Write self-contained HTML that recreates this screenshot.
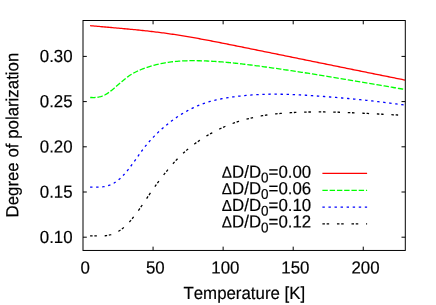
<!DOCTYPE html><html><head><meta charset="utf-8"><style>html,body{margin:0;padding:0;background:#fff}svg{display:block}text{font-family:"Liberation Sans",sans-serif;fill:#000;stroke:#000;stroke-width:0.18px;font-kerning:none;font-variant-ligatures:none}</style></head><body>
<svg width="436" height="305" viewBox="0 0 436 305">
<rect width="436" height="305" fill="#fff"/>
<g fill="none" stroke-width="1.30">
<path d="M90.10 25.64 L91.60 25.78 L93.10 25.92 L94.60 26.05 L96.10 26.19 L97.60 26.33 L99.10 26.46 L100.60 26.59 L102.10 26.73 L103.60 26.86 L105.10 26.99 L106.60 27.12 L108.10 27.26 L109.60 27.39 L111.10 27.52 L112.60 27.65 L114.10 27.78 L115.60 27.92 L117.10 28.05 L118.60 28.18 L120.10 28.32 L121.60 28.45 L123.10 28.59 L124.60 28.73 L126.10 28.87 L127.60 29.01 L129.10 29.15 L130.60 29.29 L132.10 29.43 L133.60 29.58 L135.10 29.72 L136.60 29.87 L138.10 30.02 L139.60 30.18 L141.10 30.33 L142.60 30.49 L144.10 30.65 L145.60 30.81 L147.10 30.97 L148.60 31.14 L150.10 31.31 L151.60 31.48 L153.10 31.66 L154.60 31.83 L156.10 32.02 L157.60 32.20 L159.10 32.39 L160.60 32.58 L162.10 32.78 L163.60 32.98 L165.10 33.18 L166.60 33.38 L168.10 33.59 L169.60 33.81 L171.10 34.03 L172.60 34.25 L174.10 34.47 L175.60 34.70 L177.10 34.93 L178.60 35.17 L180.10 35.40 L181.60 35.65 L183.10 35.89 L184.60 36.14 L186.10 36.39 L187.60 36.64 L189.10 36.89 L190.60 37.15 L192.10 37.41 L193.60 37.68 L195.10 37.94 L196.60 38.21 L198.10 38.48 L199.60 38.75 L201.10 39.03 L202.60 39.30 L204.10 39.58 L205.60 39.86 L207.10 40.14 L208.60 40.43 L210.10 40.71 L211.60 41.00 L213.10 41.29 L214.60 41.58 L216.10 41.87 L217.60 42.16 L219.10 42.46 L220.60 42.75 L222.10 43.05 L223.60 43.35 L225.10 43.64 L226.60 43.94 L228.10 44.24 L229.60 44.54 L231.10 44.84 L232.60 45.15 L234.10 45.45 L235.60 45.75 L237.10 46.05 L238.60 46.36 L240.10 46.66 L241.60 46.96 L243.10 47.26 L244.60 47.57 L246.10 47.87 L247.60 48.17 L249.10 48.48 L250.60 48.78 L252.10 49.09 L253.60 49.39 L255.10 49.69 L256.60 50.00 L258.10 50.30 L259.60 50.60 L261.10 50.91 L262.60 51.21 L264.10 51.52 L265.60 51.82 L267.10 52.13 L268.60 52.43 L270.10 52.73 L271.60 53.04 L273.10 53.34 L274.60 53.65 L276.10 53.95 L277.60 54.26 L279.10 54.56 L280.60 54.87 L282.10 55.17 L283.60 55.48 L285.10 55.78 L286.60 56.08 L288.10 56.39 L289.60 56.69 L291.10 57.00 L292.60 57.30 L294.10 57.61 L295.60 57.91 L297.10 58.22 L298.60 58.52 L300.10 58.83 L301.60 59.13 L303.10 59.44 L304.60 59.74 L306.10 60.05 L307.60 60.35 L309.10 60.66 L310.60 60.96 L312.10 61.27 L313.60 61.57 L315.10 61.88 L316.60 62.18 L318.10 62.49 L319.60 62.79 L321.10 63.10 L322.60 63.40 L324.10 63.71 L325.60 64.01 L327.10 64.32 L328.60 64.62 L330.10 64.92 L331.60 65.23 L333.10 65.53 L334.60 65.84 L336.10 66.14 L337.60 66.45 L339.10 66.75 L340.60 67.06 L342.10 67.36 L343.60 67.66 L345.10 67.97 L346.60 68.27 L348.10 68.58 L349.60 68.88 L351.10 69.19 L352.60 69.49 L354.10 69.79 L355.60 70.10 L357.10 70.40 L358.60 70.71 L360.10 71.01 L361.60 71.31 L363.10 71.62 L364.60 71.92 L366.10 72.22 L367.60 72.53 L369.10 72.83 L370.60 73.13 L372.10 73.44 L373.60 73.74 L375.10 74.04 L376.60 74.34 L378.10 74.65 L379.60 74.95 L381.10 75.25 L382.60 75.55 L384.10 75.86 L385.60 76.16 L387.10 76.46 L388.60 76.76 L390.10 77.06 L391.60 77.37 L393.10 77.67 L394.60 77.97 L396.10 78.27 L397.60 78.57 L399.10 78.87 L400.60 79.17 L402.10 79.48 L403.60 79.78 L405.00 80.06" stroke="#ff0000"/>
<path d="M90.20 97.48 L91.70 97.51 L93.20 97.53 L94.70 97.50 L96.20 97.42 L97.70 97.25 L99.20 96.97 L100.70 96.59 L102.20 96.09 L103.70 95.47 L105.20 94.73 L106.70 93.86 L108.20 92.88 L109.70 91.79 L111.20 90.64 L112.70 89.43 L114.20 88.17 L115.70 86.89 L117.20 85.58 L118.70 84.27 L120.20 82.96 L121.70 81.66 L123.20 80.39 L124.70 79.16 L126.20 77.98 L127.70 76.85 L129.20 75.80 L130.70 74.82 L132.20 73.90 L133.70 73.04 L135.20 72.24 L136.70 71.48 L138.20 70.78 L139.70 70.11 L141.20 69.48 L142.70 68.89 L144.20 68.33 L145.70 67.79 L147.20 67.27 L148.70 66.78 L150.20 66.31 L151.70 65.87 L153.20 65.44 L154.70 65.04 L156.20 64.66 L157.70 64.30 L159.20 63.96 L160.70 63.64 L162.20 63.34 L163.70 63.06 L165.20 62.80 L166.70 62.56 L168.20 62.33 L169.70 62.12 L171.20 61.93 L172.70 61.75 L174.20 61.59 L175.70 61.44 L177.20 61.31 L178.70 61.19 L180.20 61.09 L181.70 60.99 L183.20 60.92 L184.70 60.85 L186.20 60.80 L187.70 60.75 L189.20 60.72 L190.70 60.70 L192.20 60.69 L193.70 60.68 L195.20 60.69 L196.70 60.70 L198.20 60.73 L199.70 60.76 L201.20 60.79 L202.70 60.84 L204.20 60.89 L205.70 60.94 L207.20 61.01 L208.70 61.08 L210.20 61.15 L211.70 61.23 L213.20 61.32 L214.70 61.41 L216.20 61.51 L217.70 61.62 L219.20 61.73 L220.70 61.84 L222.20 61.96 L223.70 62.08 L225.20 62.21 L226.70 62.35 L228.20 62.48 L229.70 62.63 L231.20 62.77 L232.70 62.92 L234.20 63.08 L235.70 63.24 L237.20 63.40 L238.70 63.56 L240.20 63.73 L241.70 63.90 L243.20 64.08 L244.70 64.26 L246.20 64.44 L247.70 64.62 L249.20 64.81 L250.70 65.00 L252.20 65.19 L253.70 65.38 L255.20 65.58 L256.70 65.77 L258.20 65.97 L259.70 66.17 L261.20 66.37 L262.70 66.58 L264.20 66.78 L265.70 66.99 L267.20 67.19 L268.70 67.40 L270.20 67.61 L271.70 67.82 L273.20 68.04 L274.70 68.25 L276.20 68.46 L277.70 68.68 L279.20 68.90 L280.70 69.12 L282.20 69.34 L283.70 69.56 L285.20 69.78 L286.70 70.00 L288.20 70.22 L289.70 70.45 L291.20 70.68 L292.70 70.90 L294.20 71.13 L295.70 71.36 L297.20 71.59 L298.70 71.82 L300.20 72.05 L301.70 72.29 L303.20 72.52 L304.70 72.75 L306.20 72.99 L307.70 73.23 L309.20 73.46 L310.70 73.70 L312.20 73.94 L313.70 74.18 L315.20 74.42 L316.70 74.66 L318.20 74.90 L319.70 75.14 L321.20 75.39 L322.70 75.63 L324.20 75.88 L325.70 76.12 L327.20 76.37 L328.70 76.61 L330.20 76.86 L331.70 77.11 L333.20 77.35 L334.70 77.60 L336.20 77.85 L337.70 78.10 L339.20 78.35 L340.70 78.60 L342.20 78.85 L343.70 79.10 L345.20 79.35 L346.70 79.60 L348.20 79.86 L349.70 80.11 L351.20 80.36 L352.70 80.61 L354.20 80.87 L355.70 81.12 L357.20 81.37 L358.70 81.63 L360.20 81.88 L361.70 82.14 L363.20 82.39 L364.70 82.65 L366.20 82.90 L367.70 83.16 L369.20 83.41 L370.70 83.67 L372.20 83.92 L373.70 84.18 L375.20 84.43 L376.70 84.69 L378.20 84.94 L379.70 85.20 L381.20 85.45 L382.70 85.71 L384.20 85.96 L385.70 86.22 L387.20 86.47 L388.70 86.73 L390.20 86.98 L391.70 87.23 L393.20 87.49 L394.70 87.74 L396.20 88.00 L397.70 88.25 L399.20 88.50 L400.70 88.75 L402.20 89.01 L403.70 89.26 L404.00 89.31" stroke="#00ff00" stroke-dasharray="5.4 1.86"/>
<path d="M90.10 187.10 L91.60 187.08 L93.10 187.08 L94.60 187.10 L96.10 187.11 L97.60 187.11 L99.10 187.09 L100.60 187.02 L102.10 186.90 L103.60 186.72 L105.10 186.47 L106.60 186.13 L108.10 185.70 L109.60 185.18 L111.10 184.56 L112.60 183.83 L114.10 182.99 L115.60 182.03 L117.10 180.95 L118.60 179.75 L120.10 178.44 L121.60 177.02 L123.10 175.49 L124.60 173.85 L126.10 172.12 L127.60 170.31 L129.10 168.42 L130.60 166.46 L132.10 164.44 L133.60 162.38 L135.10 160.29 L136.60 158.18 L138.10 156.06 L139.60 153.95 L141.10 151.87 L142.60 149.82 L144.10 147.83 L145.60 145.91 L147.10 144.06 L148.60 142.30 L150.10 140.60 L151.60 138.97 L153.10 137.39 L154.60 135.85 L156.10 134.36 L157.60 132.90 L159.10 131.48 L160.60 130.10 L162.10 128.74 L163.60 127.43 L165.10 126.14 L166.60 124.89 L168.10 123.67 L169.60 122.49 L171.10 121.34 L172.60 120.22 L174.10 119.13 L175.60 118.07 L177.10 117.05 L178.60 116.05 L180.10 115.09 L181.60 114.16 L183.10 113.25 L184.60 112.37 L186.10 111.52 L187.60 110.69 L189.10 109.88 L190.60 109.09 L192.10 108.33 L193.60 107.58 L195.10 106.87 L196.60 106.19 L198.10 105.55 L199.60 104.94 L201.10 104.36 L202.60 103.82 L204.10 103.30 L205.60 102.82 L207.10 102.35 L208.60 101.91 L210.10 101.49 L211.60 101.09 L213.10 100.70 L214.60 100.33 L216.10 99.98 L217.60 99.64 L219.10 99.32 L220.60 99.01 L222.10 98.71 L223.60 98.43 L225.10 98.16 L226.60 97.90 L228.10 97.65 L229.60 97.42 L231.10 97.19 L232.60 96.98 L234.10 96.77 L235.60 96.58 L237.10 96.39 L238.60 96.21 L240.10 96.04 L241.60 95.88 L243.10 95.72 L244.60 95.57 L246.10 95.44 L247.60 95.30 L249.10 95.18 L250.60 95.06 L252.10 94.96 L253.60 94.86 L255.10 94.76 L256.60 94.68 L258.10 94.60 L259.60 94.53 L261.10 94.46 L262.60 94.40 L264.10 94.35 L265.60 94.31 L267.10 94.27 L268.60 94.24 L270.10 94.22 L271.60 94.20 L273.10 94.19 L274.60 94.19 L276.10 94.19 L277.60 94.20 L279.10 94.21 L280.60 94.23 L282.10 94.26 L283.60 94.29 L285.10 94.32 L286.60 94.36 L288.10 94.41 L289.60 94.46 L291.10 94.51 L292.60 94.57 L294.10 94.64 L295.60 94.71 L297.10 94.78 L298.60 94.85 L300.10 94.93 L301.60 95.01 L303.10 95.10 L304.60 95.18 L306.10 95.27 L307.60 95.37 L309.10 95.46 L310.60 95.56 L312.10 95.66 L313.60 95.76 L315.10 95.87 L316.60 95.97 L318.10 96.08 L319.60 96.19 L321.10 96.30 L322.60 96.41 L324.10 96.52 L325.60 96.63 L327.10 96.75 L328.60 96.87 L330.10 96.98 L331.60 97.10 L333.10 97.22 L334.60 97.35 L336.10 97.47 L337.60 97.60 L339.10 97.72 L340.60 97.85 L342.10 97.98 L343.60 98.11 L345.10 98.25 L346.60 98.38 L348.10 98.52 L349.60 98.66 L351.10 98.80 L352.60 98.94 L354.10 99.08 L355.60 99.23 L357.10 99.38 L358.60 99.53 L360.10 99.68 L361.60 99.83 L363.10 99.98 L364.60 100.14 L366.10 100.30 L367.60 100.46 L369.10 100.62 L370.60 100.78 L372.10 100.95 L373.60 101.12 L375.10 101.29 L376.60 101.46 L378.10 101.63 L379.60 101.81 L381.10 101.99 L382.60 102.17 L384.10 102.35 L385.60 102.54 L387.10 102.72 L388.60 102.91 L390.10 103.10 L391.60 103.29 L393.10 103.49 L394.60 103.69 L396.10 103.89 L397.60 104.09 L399.10 104.29 L400.60 104.50 L402.10 104.71 L403.60 104.92 L404.00 104.98" stroke="#0000ff" stroke-dasharray="2.4 3.66"/>
<path d="M90.10 235.96 L91.60 235.92 L93.10 235.91 L94.60 235.93 L96.10 235.95 L97.60 235.97 L99.10 235.99 L100.60 235.98 L102.10 235.95 L103.60 235.87 L105.10 235.74 L106.60 235.56 L108.10 235.30 L109.60 234.98 L111.10 234.58 L112.60 234.10 L114.10 233.53 L115.60 232.88 L117.10 232.13 L118.60 231.28 L120.10 230.33 L121.60 229.28 L123.10 228.10 L124.60 226.82 L126.10 225.41 L127.60 223.90 L129.10 222.28 L130.60 220.57 L132.10 218.78 L133.60 216.91 L135.10 214.96 L136.60 212.96 L138.10 210.90 L139.60 208.80 L141.10 206.65 L142.60 204.48 L144.10 202.28 L145.60 200.07 L147.10 197.86 L148.60 195.64 L150.10 193.44 L151.60 191.25 L153.10 189.09 L154.60 186.96 L156.10 184.87 L157.60 182.83 L159.10 180.83 L160.60 178.86 L162.10 176.93 L163.60 175.03 L165.10 173.15 L166.60 171.30 L168.10 169.46 L169.60 167.66 L171.10 165.88 L172.60 164.14 L174.10 162.44 L175.60 160.79 L177.10 159.20 L178.60 157.65 L180.10 156.16 L181.60 154.71 L183.10 153.31 L184.60 151.96 L186.10 150.65 L187.60 149.37 L189.10 148.14 L190.60 146.94 L192.10 145.78 L193.60 144.65 L195.10 143.54 L196.60 142.47 L198.10 141.42 L199.60 140.40 L201.10 139.40 L202.60 138.43 L204.10 137.48 L205.60 136.55 L207.10 135.65 L208.60 134.77 L210.10 133.91 L211.60 133.07 L213.10 132.26 L214.60 131.46 L216.10 130.69 L217.60 129.94 L219.10 129.21 L220.60 128.50 L222.10 127.81 L223.60 127.14 L225.10 126.49 L226.60 125.86 L228.10 125.25 L229.60 124.66 L231.10 124.08 L232.60 123.52 L234.10 122.98 L235.60 122.46 L237.10 121.96 L238.60 121.47 L240.10 121.00 L241.60 120.54 L243.10 120.10 L244.60 119.68 L246.10 119.27 L247.60 118.88 L249.10 118.50 L250.60 118.13 L252.10 117.78 L253.60 117.45 L255.10 117.13 L256.60 116.82 L258.10 116.52 L259.60 116.24 L261.10 115.96 L262.60 115.70 L264.10 115.46 L265.60 115.22 L267.10 114.99 L268.60 114.78 L270.10 114.58 L271.60 114.38 L273.10 114.20 L274.60 114.02 L276.10 113.86 L277.60 113.70 L279.10 113.56 L280.60 113.42 L282.10 113.29 L283.60 113.16 L285.10 113.05 L286.60 112.94 L288.10 112.84 L289.60 112.75 L291.10 112.66 L292.60 112.58 L294.10 112.50 L295.60 112.43 L297.10 112.36 L298.60 112.30 L300.10 112.25 L301.60 112.20 L303.10 112.15 L304.60 112.11 L306.10 112.07 L307.60 112.04 L309.10 112.01 L310.60 111.99 L312.10 111.97 L313.60 111.96 L315.10 111.95 L316.60 111.94 L318.10 111.94 L319.60 111.94 L321.10 111.95 L322.60 111.95 L324.10 111.97 L325.60 111.98 L327.10 112.00 L328.60 112.02 L330.10 112.05 L331.60 112.08 L333.10 112.11 L334.60 112.14 L336.10 112.18 L337.60 112.22 L339.10 112.27 L340.60 112.31 L342.10 112.36 L343.60 112.41 L345.10 112.46 L346.60 112.52 L348.10 112.57 L349.60 112.63 L351.10 112.69 L352.60 112.75 L354.10 112.82 L355.60 112.88 L357.10 112.95 L358.60 113.02 L360.10 113.09 L361.60 113.16 L363.10 113.23 L364.60 113.31 L366.10 113.38 L367.60 113.46 L369.10 113.53 L370.60 113.61 L372.10 113.68 L373.60 113.76 L375.10 113.84 L376.60 113.92 L378.10 114.00 L379.60 114.08 L381.10 114.16 L382.60 114.23 L384.10 114.31 L385.60 114.39 L387.10 114.47 L388.60 114.55 L390.10 114.62 L391.60 114.70 L393.10 114.78 L394.60 114.85 L396.10 114.93 L397.60 115.00 L399.10 115.07 L400.60 115.14 L402.10 115.21 L403.60 115.28 L404.00 115.30" stroke="#000" stroke-dasharray="2.5 1.75 2.5 7.8"/>
<path d="M322.4 173.3H367.1" stroke="#ff0000"/>
<path d="M322.4 190.3H367.1" stroke="#00ff00" stroke-dasharray="5.4 1.86"/>
<path d="M322.4 207.2H367.1" stroke="#0000ff" stroke-dasharray="2.4 3.66"/>
<path d="M322.4 223.8H367.1" stroke="#000" stroke-dasharray="2.5 1.75 2.5 7.8"/>
</g>
<g fill="none" stroke="#000" stroke-width="1">
<rect x="83.00" y="20.50" width="322.30" height="229.95"/>
<path d="M83.00 237.20 h3.80 M405.30 237.20 h-3.80 M83.00 192.00 h3.80 M405.30 192.00 h-3.80 M83.00 146.80 h3.80 M405.30 146.80 h-3.80 M83.00 101.60 h3.80 M405.30 101.60 h-3.80 M83.00 56.40 h3.80 M405.30 56.40 h-3.80 M153.07 250.45 v-3.80 M153.07 20.50 v3.80 M223.13 250.45 v-3.80 M223.13 20.50 v3.80 M293.20 250.45 v-3.80 M293.20 20.50 v3.80 M363.26 250.45 v-3.80 M363.26 20.50 v3.80 "/>
</g>
<g font-size="16.85" style="filter:grayscale(1)">
<text transform="translate(72.60 242.90) rotate(0.03) scale(1 1.040)" text-anchor="end">0.10</text>
<text transform="translate(72.60 197.70) rotate(0.03) scale(1 1.040)" text-anchor="end">0.15</text>
<text transform="translate(72.60 152.50) rotate(0.03) scale(1 1.040)" text-anchor="end">0.20</text>
<text transform="translate(72.60 107.30) rotate(0.03) scale(1 1.040)" text-anchor="end">0.25</text>
<text transform="translate(72.60 62.10) rotate(0.03) scale(1 1.040)" text-anchor="end">0.30</text>
<text transform="translate(85.20 273.60) rotate(0.03) scale(1 1.040)" text-anchor="middle">0</text>
<text transform="translate(155.27 273.60) rotate(0.03) scale(1 1.040)" text-anchor="middle">50</text>
<text transform="translate(225.33 273.60) rotate(0.03) scale(1 1.040)" text-anchor="middle">100</text>
<text transform="translate(295.40 273.60) rotate(0.03) scale(1 1.040)" text-anchor="middle">150</text>
<text transform="translate(365.46 273.60) rotate(0.03) scale(1 1.040)" text-anchor="middle">200</text>
<text transform="translate(244.30 299.00) rotate(0.03) scale(1 1.040)" text-anchor="middle">Temperature [K]</text>
<text transform="translate(18.30 135.10) rotate(-90.03) scale(1 1.040)" text-anchor="middle">Degree of polarization</text>
<text transform="translate(311.20 177.70) rotate(0.03) scale(1 1.040)" text-anchor="end"><tspan font-size="15.3">&#916;</tspan>D/D<tspan font-size="13.48" dy="4.4">0</tspan><tspan dy="-4.4">=0.00</tspan></text>
<text transform="translate(311.20 194.30) rotate(0.03) scale(1 1.040)" text-anchor="end"><tspan font-size="15.3">&#916;</tspan>D/D<tspan font-size="13.48" dy="4.4">0</tspan><tspan dy="-4.4">=0.06</tspan></text>
<text transform="translate(311.20 211.00) rotate(0.03) scale(1 1.040)" text-anchor="end"><tspan font-size="15.3">&#916;</tspan>D/D<tspan font-size="13.48" dy="4.4">0</tspan><tspan dy="-4.4">=0.10</tspan></text>
<text transform="translate(311.20 227.60) rotate(0.03) scale(1 1.040)" text-anchor="end"><tspan font-size="15.3">&#916;</tspan>D/D<tspan font-size="13.48" dy="4.4">0</tspan><tspan dy="-4.4">=0.12</tspan></text>
</g>
</svg></body></html>
